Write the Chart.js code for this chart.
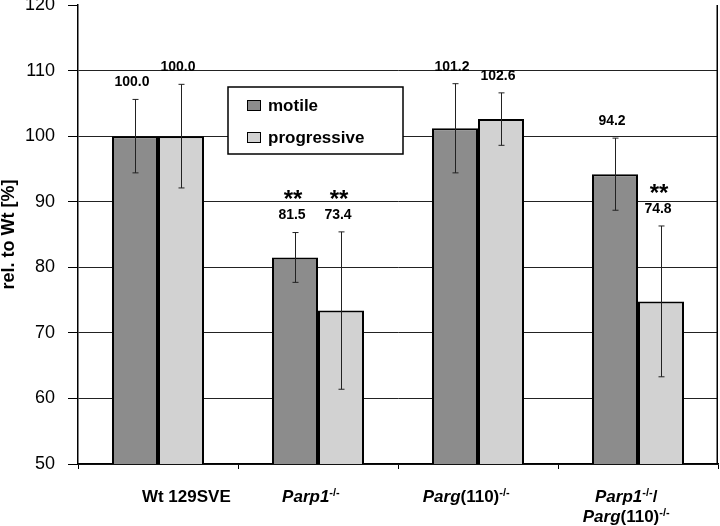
<!DOCTYPE html>
<html><head><meta charset="utf-8">
<script src="https://cdn.jsdelivr.net/npm/chart.js@4.4.1/dist/chart.umd.min.js"></script>
<style>html,body{margin:0;padding:0;background:#fff}#wrap{width:720px;height:526px;position:relative}</style>
</head><body><div id="wrap"><canvas id="c"></canvas></div>
<script>
// ---- data ----
const categories = [
  ['            Wt 129SVE'],
  ['*Parp1*^-/-^   '],
  ['*Parg*(110)^-/-^     '],
  ['*Parp1*^-/-^/     ', '*Parg*(110)^-/-^     ']
];
const seriesNames = ['motile', 'progressive'];
const motile = [100.0, 81.5, 101.2, 94.2];
const progressive = [100.0, 73.4, 102.6, 74.8];
const motileErr = [5.6, 3.8, 6.8, 5.5];
const progressiveErr = [7.9, 12.0, 4.0, 11.5];
const motileSig = ['', '**', '', ''];
const progressiveSig = ['', '**', '', '**'];
const yTicks = [50, 60, 70, 80, 90, 100, 110, 120];
const yTitle = 'rel. to Wt [%]';

// ---- rendering ----
const FAM = '"Liberation Sans", Arial, Helvetica, sans-serif';
Chart.defaults.font.family = FAM;
Chart.defaults.color = '#000';

function parse(s) {
  const segs = []; let it = false, sup = false, buf = '';
  for (const ch of s) {
    if (ch === '*' || ch === '^') {
      if (buf) segs.push({ t: buf, it, sup });
      buf = '';
      if (ch === '*') it = !it; else sup = !sup;
    } else buf += ch;
  }
  if (buf) segs.push({ t: buf, it, sup });
  return segs;
}
function segFont(s) { return (s.it ? 'italic ' : '') + 'bold ' + (s.sup ? 11 : 17) + 'px ' + FAM; }

const overlay = {
  id: 'overlay',
  afterDatasetsDraw(chart) {
    const ctx = chart.ctx, ys = chart.scales.y, xs = chart.scales.x, ca = chart.chartArea;
    ctx.save();
    // right frame line
    ctx.strokeStyle = '#000'; ctx.lineWidth = 1.5;
    ctx.beginPath(); ctx.moveTo(ca.right - 0.75, ca.top); ctx.lineTo(ca.right - 0.75, ca.bottom); ctx.stroke();

    // error bars, value labels, significance stars
    chart.data.datasets.forEach((ds, di) => {
      const meta = chart.getDatasetMeta(di);
      meta.data.forEach((el, i) => {
        const v = ds.data[i], e = ds.err[i];
        const yt = ys.getPixelForValue(v + e), yb = ys.getPixelForValue(v - e);
        const x = Math.round(el.x) + 0.5;
        ctx.strokeStyle = '#222'; ctx.lineWidth = 1;
        ctx.beginPath();
        ctx.moveTo(x, yt); ctx.lineTo(x, yb);
        ctx.moveTo(x - 3, yt); ctx.lineTo(x + 3, yt);
        ctx.moveTo(x - 3, yb); ctx.lineTo(x + 3, yb);
        ctx.stroke();
        ctx.fillStyle = '#000'; ctx.textAlign = 'center'; ctx.textBaseline = 'middle';
        ctx.font = 'bold 14px ' + FAM;
        const ly = yt - 17;
        ctx.fillText(v.toFixed(1), el.x - 3, ly);
        if (ds.sig[i]) {
          ctx.font = 'bold 24px ' + FAM; ctx.textBaseline = 'alphabetic';
          ctx.fillText(ds.sig[i], el.x - 2, ly - 22 + 0.57 * 24);
        }
      });
    });

    // legend box
    const lx = ca.left + 150, ly0 = ca.top + 82, lw = 175, lh = 67;
    ctx.fillStyle = '#fff'; ctx.fillRect(lx, ly0, lw, lh);
    ctx.strokeStyle = '#000'; ctx.lineWidth = 1.5; ctx.strokeRect(lx, ly0, lw, lh);
    chart.data.datasets.forEach((ds, di) => {
      const sy = ly0 + 13 + di * 32;
      ctx.fillStyle = ds.backgroundColor; ctx.fillRect(lx + 19, sy, 14, 11);
      ctx.strokeStyle = '#000'; ctx.lineWidth = 1; ctx.strokeRect(lx + 19.5, sy + 0.5, 13, 10);
      ctx.fillStyle = '#000'; ctx.font = 'bold 17px ' + FAM;
      ctx.textAlign = 'left'; ctx.textBaseline = 'middle';
      ctx.fillText(ds.label, lx + 40, sy + 6);
    });

    // x category labels (rich text)
    ctx.textBaseline = 'alphabetic'; ctx.textAlign = 'left'; ctx.fillStyle = '#000';
    chart.data.labels.forEach((lines, i) => {
      const cx = xs.getPixelForValue(i);
      lines.forEach((line, li) => {
        const segs = parse(line);
        let w = 0;
        segs.forEach(s => { ctx.font = segFont(s); s.w = ctx.measureText(s.t).width; w += s.w; });
        let x = cx - w / 2;
        const base = ca.bottom + 38 + li * 20;
        segs.forEach(s => {
          ctx.font = segFont(s);
          ctx.fillText(s.t, x, s.sup ? base - 6 : base);
          x += s.w;
        });
      });
    });
    ctx.restore();
  }
};

new Chart(document.getElementById('c'), {
  type: 'bar',
  data: {
    labels: categories,
    datasets: [
      { label: seriesNames[0], data: motile, err: motileErr, sig: motileSig,
        backgroundColor: '#8c8c8c', borderColor: '#000', borderWidth: 2 },
      { label: seriesNames[1], data: progressive, err: progressiveErr, sig: progressiveSig,
        backgroundColor: '#d2d2d2', borderColor: '#000', borderWidth: 2 }
    ]
  },
  options: {
    responsive: true, maintainAspectRatio: false, animation: false, devicePixelRatio: 1,
    layout: { padding: { top: 5, right: 2, left: 0, bottom: 0 } },
    plugins: { legend: { display: false }, tooltip: { enabled: false } },
    datasets: { bar: { categoryPercentage: 0.575, barPercentage: 1 } },
    scales: {
      x: {
        grid: { offset: true, drawOnChartArea: false, drawTicks: true, tickLength: 5, color: '#000', tickColor: '#000' },
        border: { color: '#000', width: 1.5 },
        ticks: { display: false },
        afterFit(s) { s.height = 62; s.paddingLeft = 0; s.paddingRight = 0; }
      },
      y: {
        min: 50, max: 120,
        afterBuildTicks(s) { s.ticks = yTicks.map(v => ({ value: v })); },
        ticks: { font: { size: 18 }, color: '#000', padding: 13 },
        grid: {
          color: c => (c.tick && c.tick.value === 120) ? 'rgba(0,0,0,0)' : '#222',
          tickColor: '#000', tickLength: 10, lineWidth: 1
        },
        border: { color: '#000', width: 1.5 },
        title: { display: true, text: yTitle, font: { size: 18, weight: 'bold', lineHeight: 1 }, color: '#000', padding: 0 },
        afterFit(s) { s.width = 78; s.paddingTop = 0; s.paddingBottom = 0; }
      }
    }
  },
  plugins: [overlay]
});
</script>
</body></html>
